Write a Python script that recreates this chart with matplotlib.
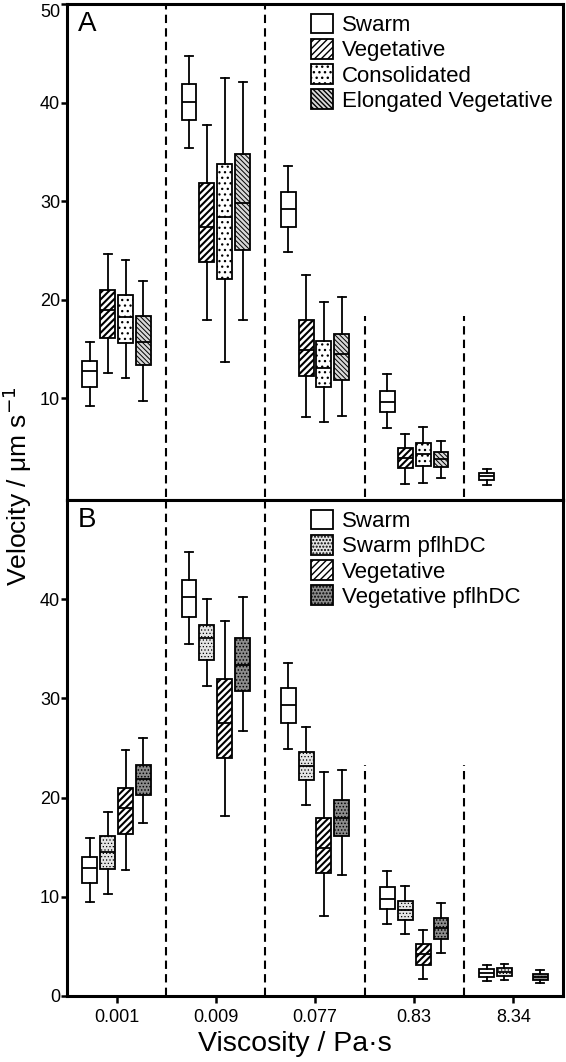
import numpy as np
import matplotlib
matplotlib.use("Agg")
import matplotlib.pyplot as plt
from matplotlib.patches import Patch

plt.rcParams['font.family'] = ['Liberation Sans', 'DejaVu Sans']

viscosity = ['0.001', '0.009', '0.077', '0.83', '8.34']

# each row: whisker low, q1, median, q3, whisker high (per viscosity)
# panel A
a_swarm = [[9.2, 11.1, 12.7, 13.8, 15.7],
           [35.4, 38.2, 40.1, 41.9, 44.7],
           [24.8, 27.4, 29.2, 30.9, 33.6],
           [7.0, 8.6, 9.6, 10.7, 12.4],
           [1.2, 1.7, 2.1, 2.4, 2.8]]
a_veg = [[12.5, 16.1, 18.9, 21.0, 24.6],
         [17.9, 23.8, 27.4, 31.8, 37.7],
         [8.1, 12.2, 14.9, 17.9, 22.5],
         [1.3, 2.9, 3.9, 4.9, 6.4],
         None]
a_cons = [[12.0, 15.6, 18.2, 20.5, 24.0],
          [13.7, 22.1, 28.4, 33.8, 42.5],
          [7.6, 11.1, 13.1, 15.8, 19.7],
          [1.4, 3.1, 4.3, 5.4, 7.1],
          None]
a_elong = [[9.7, 13.4, 15.7, 18.3, 21.9],
           [17.9, 25.0, 29.8, 34.8, 42.1],
           [8.2, 11.8, 14.5, 16.5, 20.3],
           [1.9, 3.0, 3.8, 4.5, 5.6],
           None]

# panel B
b_swarm = [[9.5, 11.4, 12.9, 14.0, 15.9],
           [35.5, 38.2, 40.2, 41.9, 44.8],
           [24.9, 27.5, 29.3, 31.0, 33.6],
           [7.3, 8.8, 9.8, 11.0, 12.6],
           [1.5, 1.9, 2.3, 2.7, 3.1]]
b_swarm_pf = [[10.3, 12.8, 14.5, 16.1, 18.5],
              [31.3, 33.9, 36.1, 37.4, 40.0],
              [19.3, 21.8, 23.2, 24.6, 27.1],
              [6.3, 7.7, 8.7, 9.6, 11.1],
              [1.6, 2.0, 2.4, 2.8, 3.2]]
b_veg = [[12.7, 16.3, 19.0, 21.0, 24.8],
         [18.1, 24.0, 27.5, 32.0, 37.8],
         [8.1, 12.4, 14.9, 17.9, 22.6],
         [1.7, 3.1, 4.2, 5.2, 6.7],
         None]
b_veg_pf = [[17.4, 20.3, 21.9, 23.3, 26.0],
            [26.7, 30.7, 33.4, 36.1, 40.2],
            [12.2, 16.1, 17.9, 19.8, 22.8],
            [4.3, 5.7, 6.9, 7.9, 9.4],
            [1.3, 1.6, 1.9, 2.2, 2.6]]

# name, data, facecolor, hatch, hatch linewidth
a_series = [('Swarm', a_swarm, 'white', '', 1.0),
            ('Vegetative', a_veg, 'white', '/////', 1.5),
            ('Consolidated', a_cons, 'white', '...', 0.9),
            ('Elongated Vegetative', a_elong, '#d8d8d8', '\\\\\\\\\\\\\\', 0.7)]
b_series = [('Swarm', b_swarm, 'white', '', 1.0),
            ('Swarm pflhDC', b_swarm_pf, '#e4e4e4', '.....', 0.5),
            ('Vegetative', b_veg, 'white', '/////', 1.5),
            ('Vegetative pflhDC', b_veg_pf, '#8c8c8c', '.....', 0.7)]

offsets = [-0.27, -0.09, 0.09, 0.27]


def set_hlw(p, lw):
    if hasattr(p, 'set_hatch_linewidth'):
        p.set_hatch_linewidth(lw)


def draw_panel(ax, series, short_lines_top):
    handles = []
    for k, (name, vals, fc, hatch, hlw) in enumerate(series):
        stats, pos = [], []
        for i, v in enumerate(vals):
            if v is None:
                continue
            stats.append(dict(whislo=v[0], q1=v[1], med=v[2], q3=v[3], whishi=v[4], fliers=[]))
            pos.append(i + offsets[k])
        with plt.rc_context({'hatch.linewidth': hlw}):
            bp = ax.bxp(stats, positions=pos, widths=0.15, capwidths=0.08,
                        patch_artist=True, showfliers=False,
                        boxprops=dict(facecolor=fc, edgecolor='black', linewidth=1.3, hatch=hatch),
                        medianprops=dict(color='black', linewidth=1.3),
                        whiskerprops=dict(color='black', linewidth=1.3),
                        capprops=dict(color='black', linewidth=1.3))
            h = Patch(facecolor=fc, edgecolor='black', hatch=hatch, label=name, linewidth=1.3)
        for b in bp['boxes']:
            set_hlw(b, hlw)
        set_hlw(h, hlw)
        handles.append(h)
    ax.vlines([0.5, 1.5], 0, 50, colors='black', linestyles=(0, (4, 2.5)), lw=1.5)
    ax.vlines([2.5, 3.5], 0, short_lines_top, colors='black', linestyles=(0, (4, 2.5)), lw=1.5)
    ax.set_xlim(-0.5, 4.5)
    for s in ax.spines.values():
        s.set_linewidth(2.2)
    ax.tick_params(axis='y', direction='out', length=4, width=1.8, labelsize=13, pad=1)
    ax.legend(handles=handles, loc='upper left', bbox_to_anchor=(0.46, 1.012), frameon=False,
              fontsize=16, handlelength=1.0, handleheight=1.0, handletextpad=0.4,
              labelspacing=0.12, borderpad=0.2)


fig = plt.figure(figsize=(5.66, 10.62), dpi=100)
axA = fig.add_axes([67 / 566, 1 - 500 / 1062, 496 / 566, 496 / 1062])
axB = fig.add_axes([67 / 566, 1 - 996 / 1062, 496 / 566, 496 / 1062])

draw_panel(axA, a_series, 18.3)
draw_panel(axB, b_series, 23.3)

axA.set_ylim(-0.35, 50)
axA.set_yticks([10, 20, 30, 40, 50])
axA.set_xticks([])
# keep the top "50" label inside the figure
axA.get_yticklabels()[-1].set_va('top')
axB.set_ylim(0, 50)
axB.set_yticks([0, 10, 20, 30, 40])
axB.set_xticks(range(5))
axB.set_xticklabels(viscosity)
axB.tick_params(axis='x', direction='out', length=5, width=1.8, labelsize=13, pad=4)

axA.text(0.022, 0.985, 'A', transform=axA.transAxes, fontsize=20, va='top', ha='left')
axB.text(0.022, 0.985, 'B', transform=axB.transAxes, fontsize=20, va='top', ha='left')

fig.text(17 / 566, 1 - 486 / 1062, 'Velocity / μm s$^{-1}$', rotation=90, fontsize=19,
         ha='center', va='center')
fig.text(295 / 566, 1 - 1044 / 1062, 'Viscosity / Pa·s', fontsize=20.5, ha='center', va='center')

fig.savefig('out.png', dpi=100)
